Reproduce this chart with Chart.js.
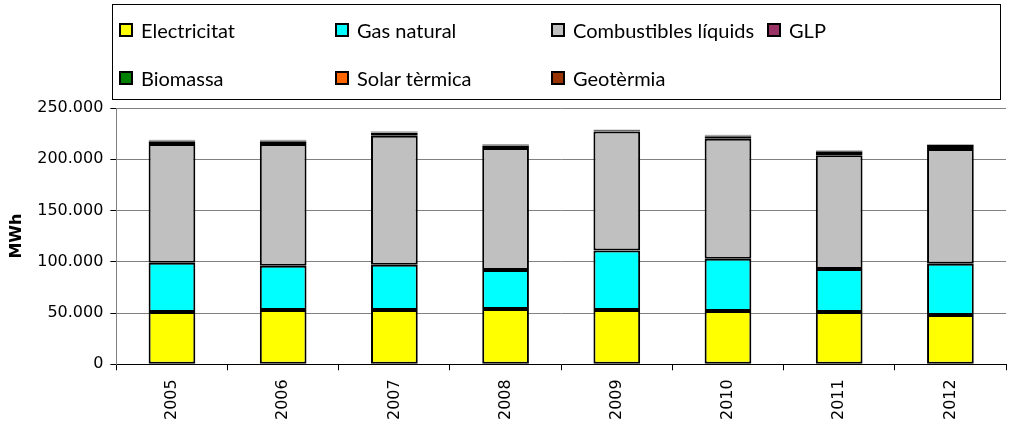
<!DOCTYPE html>
<html>
<head>
<meta charset="utf-8">
<script src="https://cdn.jsdelivr.net/npm/chart.js@4/dist/chart.umd.min.js"></script>
<style>
  html, body { margin: 0; padding: 0; background: #fff; }
  #wrap { position: relative; width: 1011px; height: 429px; }
  #chart { position: absolute; left: 0; top: 0; }
  #legend {
    position: absolute; left: 112px; top: 4px; width: 889px; height: 96px;
    border: 1px solid #000; box-sizing: border-box;
    display: grid; grid-template-columns: 216px 216px 216px 216px;
    grid-auto-rows: 48px; padding-left: 6px; padding-top: 1px;
    font-family: Lato, "Open Sans", sans-serif; font-size: 20px; color: #000;
  }
  .item { display: flex; align-items: center; }
  .swatch { width: 10px; height: 10px; border: 2px solid #000; margin-right: 8px; }
</style>
</head>
<body>
<div id="wrap">
  <canvas id="chart" width="1011" height="429"></canvas>
  <div id="legend"></div>
</div>
<script>
// Data (MWh)
const years = ['2005', '2006', '2007', '2008', '2009', '2010', '2011', '2012'];
const electricitat = [51000, 53000, 53000, 54000, 53000, 52000, 51000, 48000];
const gasNatural = [48000, 43000, 44000, 38000, 58000, 51000, 42000, 50000];
const combustibles = [116000, 119000, 126000, 119000, 116000, 117000, 111000, 112000];
const glp = [2500, 2500, 2500, 2500, 1200, 2500, 3000, 3000];
const biomassa = [500, 600, 600, 700, 500, 700, 800, 900];
const solar = [300, 300, 300, 300, 300, 300, 300, 300];
const geotermia = [700, 700, 700, 500, 0, 500, 400, 400];
const yTickValues = [0, 50000, 100000, 150000, 200000, 250000];

const series = [
  { label: 'Electricitat', data: electricitat, color: '#FFFF00' },
  { label: 'Gas natural', data: gasNatural, color: '#00FFFF' },
  { label: 'Combustibles líquids', data: combustibles, color: '#C0C0C0' },
  { label: 'GLP', data: glp, color: '#993366' },
  { label: 'Biomassa', data: biomassa, color: '#008000' },
  { label: 'Solar tèrmica', data: solar, color: '#FF6600' },
  { label: 'Geotèrmia', data: geotermia, color: '#993300' },
];

// legend as html
const legendEl = document.getElementById('legend');
series.forEach(s => {
  const item = document.createElement('div');
  item.className = 'item';
  item.innerHTML = '<span class="swatch" style="background:' + s.color + '"></span><span>' + s.label + '</span>';
  legendEl.appendChild(item);
});

const fmt = v => String(v).replace(/\B(?=(\d{3})+(?!\d))/g, '.');

new Chart(document.getElementById('chart'), {
  type: 'bar',
  data: {
    labels: years,
    datasets: series.map(s => ({
      label: s.label,
      data: s.data,
      backgroundColor: s.color,
      borderColor: '#000',
      borderWidth: 2,
      borderSkipped: false,
      barPercentage: 0.42,
      categoryPercentage: 1,
    })),
  },
  options: {
    responsive: false,
    animation: false,
    layout: { padding: { top: 108, right: 5, left: 3, bottom: 0 } },
    plugins: { legend: { display: false }, tooltip: { enabled: false } },
    scales: {
      x: {
        stacked: true,
        border: { color: '#000', width: 1 },
        grid: { drawOnChartArea: false, drawTicks: true, tickLength: 6, color: '#000', offset: true },
        ticks: {
          minRotation: 90, maxRotation: 90, color: '#000', padding: 9,
          font: { family: 'DejaVu Sans', size: 16 },
        },
      },
      y: {
        stacked: true,
        min: 0,
        max: 250000,
        afterBuildTicks: axis => { axis.ticks = yTickValues.map(v => ({ value: v })); },
        border: { color: '#808080', width: 1 },
        grid: { color: '#808080', lineWidth: 1, tickLength: 6, tickColor: '#000' },
        ticks: {
          color: '#000', padding: 7,
          font: { family: 'DejaVu Sans', size: 16 },
          callback: v => fmt(v),
        },
        title: {
          display: true, text: 'MWh', color: '#000', padding: 4,
          font: { family: 'DejaVu Sans', size: 16, weight: 'bold' },
        },
      },
    },
  },
});
</script>
</body>
</html>
